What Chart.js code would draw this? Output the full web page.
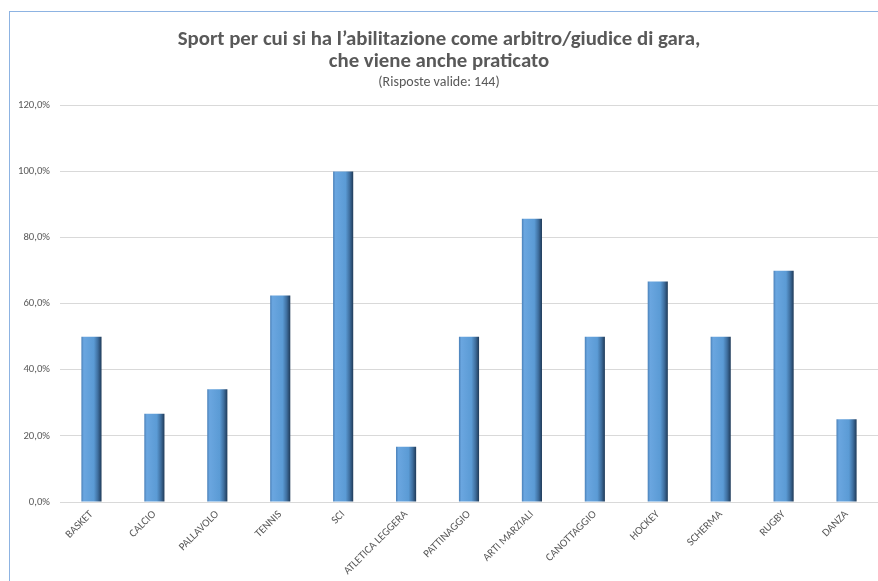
<!DOCTYPE html>
<html>
<head>
<meta charset="utf-8">
<script src="https://cdn.jsdelivr.net/npm/chart.js@4.4.1/dist/chart.umd.min.js"></script>
<style>
  html, body { margin: 0; padding: 0; background: #fff; overflow: hidden; }
  #wrap { position: relative; width: 878px; height: 581px; }
  #frame { position: absolute; left: 9px; top: 11px; width: 900px; height: 600px;
           border-left: 1px solid #8db3e2; border-top: 1px solid #8db3e2; }
  canvas { position: absolute; left: 0; top: 0; }
</style>
</head>
<body>
<div id="wrap">
  <div id="frame"></div>
  <canvas id="myChart" width="878" height="581"></canvas>
</div>
<script>
const sports = ['BASKET', 'CALCIO', 'PALLAVOLO', 'TENNIS', 'SCI', 'ATLETICA LEGGERA',
  'PATTINAGGIO', 'ARTI MARZIALI', 'CANOTTAGGIO', 'HOCKEY', 'SCHERMA', 'RUGBY', 'DANZA'];
const percentages = [50.0, 26.7, 34.1, 62.5, 100.0, 16.7, 50.0, 85.7, 50.0, 66.7, 50.0, 70.0, 25.0];
const titleLines = ['Sport per cui si ha l\u2019abilitazione come arbitro/giudice di gara,',
  'che viene anche praticato'];
const subtitleText = '(Risposte valide: 144)';

const fontFamily = 'Carlito, "Liberation Sans Narrow", "Open Sans", sans-serif';
const grey = '#595959';
const barFraction = 0.32;

// shaded bar fill, darker on the right edge like the office 3d style
function barFill(context) {
  const chart = context.chart;
  const x = chart.scales.x;
  if (!chart.chartArea || !x) {
    return '#5b9bd5';
  }
  const w = x.width / sports.length * barFraction;
  const left = x.getPixelForValue(context.dataIndex) - w / 2;
  const g = chart.ctx.createLinearGradient(left, 0, left + w, 0);
  g.addColorStop(0, '#4a80b8');
  g.addColorStop(0.12, '#6aa6e0');
  g.addColorStop(0.62, '#5b9bd5');
  g.addColorStop(0.82, '#3f6f9f');
  g.addColorStop(1, '#1f3a58');
  return g;
}

const ctx = document.getElementById('myChart');
const chart = new Chart(ctx, {
  type: 'bar',
  data: {
    labels: sports,
    datasets: [{
      data: percentages,
      borderWidth: 0,
      backgroundColor: barFill,
      categoryPercentage: 1,
      barPercentage: barFraction,
    }]
  },
  options: {
    responsive: false,
    animation: false,
    layout: {padding: {left: 0, right: 0, top: 0, bottom: 0}},
    plugins: {
      legend: {display: false},
      tooltip: {enabled: false},
      title: {
        display: true,
        text: titleLines,
        color: grey,
        font: {family: fontFamily, size: 20.8, weight: 'bold', lineHeight: 1.06},
        padding: {top: 29, bottom: 0},
      },
      subtitle: {
        display: true,
        text: subtitleText,
        color: grey,
        font: {family: fontFamily, size: 14, lineHeight: 1.2},
        padding: {top: 1, bottom: 14.5},
      },
    },
    scales: {
      x: {
        afterFit: (scale) => { scale.height = 79; },
        grid: {display: false},
        border: {display: true, color: '#d9d9d9', width: 1},
        ticks: {
          color: grey,
          font: {family: fontFamily, size: 11},
          minRotation: 45,
          maxRotation: 45,
          autoSkip: false,
          padding: -2,
        },
      },
      y: {
        min: 0,
        max: 120,
        afterFit: (scale) => { scale.width = 60; },
        grid: {color: '#d9d9d9', drawTicks: false},
        border: {display: false},
        ticks: {
          stepSize: 20,
          color: grey,
          padding: 10,
          font: {family: fontFamily, size: 10.7},
          callback: (v) => v.toFixed(1).replace('.', ',') + '%',
        },
      },
    },
  },
});
</script>
</body>
</html>
